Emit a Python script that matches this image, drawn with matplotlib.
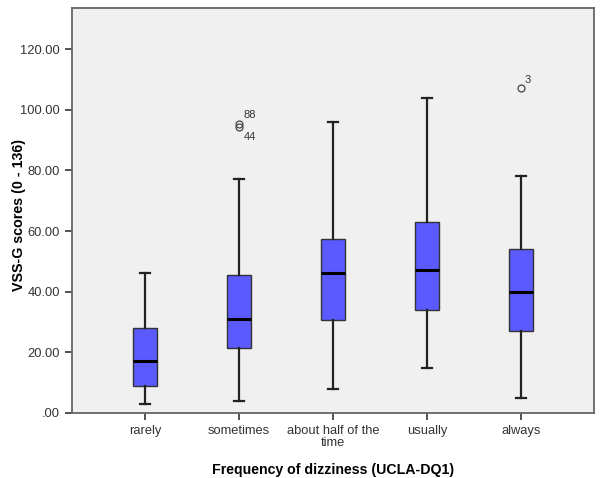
import matplotlib
matplotlib.use("Agg")
import matplotlib.pyplot as plt

plt.rcParams['font.family'] = ['Liberation Sans', 'DejaVu Sans']

categories = ["rarely", "sometimes", "about half of the\ntime", "usually", "always"]
whisker_low = [3, 4, 8, 15, 5]
q1 = [9, 21.4, 30.6, 34, 27]
median = [17, 31, 46, 47, 40]
q3 = [28, 45.6, 57.4, 63, 54]
whisker_high = [46, 77, 96, 104, 78]
outliers = [[], [95.3, 94.3], [], [], [107]]
outlier_ids = [[], ["88", "44"], [], [], ["3"]]

yticks = [0, 20, 40, 60, 80, 100, 120]
ytick_labels = [".00", "20.00", "40.00", "60.00", "80.00", "100.00", "120.00"]

stats = []
for i in range(len(categories)):
    stats.append({"med": median[i], "q1": q1[i], "q3": q3[i],
                  "whislo": whisker_low[i], "whishi": whisker_high[i],
                  "fliers": outliers[i]})

fig = plt.figure(figsize=(6.0, 4.78), dpi=100)
ax = fig.add_axes([0.12, 0.136, 0.87, 0.847])
ax.set_facecolor("#f0f0f0")

positions = list(range(1, len(categories) + 1))
ax.bxp(stats, positions=positions, widths=0.255, capwidths=0.11, patch_artist=True,
       boxprops=dict(facecolor="#5a5aff", edgecolor="#333333", linewidth=1.0),
       medianprops=dict(color="black", linewidth=2.2),
       whiskerprops=dict(color="#222222", linewidth=1.6),
       capprops=dict(color="#222222", linewidth=1.6),
       flierprops=dict(marker="o", markerfacecolor="none", markeredgecolor="#444444",
                       markersize=5, markeredgewidth=0.9))

# case numbers next to the outliers
for i, (vals, ids) in enumerate(zip(outliers, outlier_ids)):
    for j, (v, lab) in enumerate(zip(vals, ids)):
        dy = 2.8 if j == 0 else -3.3
        ax.text(positions[i] + 0.045, v + dy, lab, fontsize=8, color="#333333",
                ha="left", va="center")

ax.set_xlim(0.22, 5.78)
ax.set_ylim(0, 133.5)
ax.set_yticks(yticks)
ax.set_yticklabels(ytick_labels)
ax.set_xticks(positions)
ax.set_xticklabels(categories, linespacing=1.0)
ax.tick_params(axis="both", labelsize=9.3, colors="#333333", length=5, width=1.2,
               direction="out")
for s in ax.spines.values():
    s.set_color("#666666")
    s.set_linewidth(1.3)

ax.set_ylabel("VSS-G scores (0 - 136)", fontsize=10.3, fontweight="bold")
ax.yaxis.set_label_coords(-0.088, 0.49)
ax.set_xlabel("Frequency of dizziness (UCLA-DQ1)", fontsize=10.2, fontweight="bold", labelpad=10)

plt.savefig("out.png", dpi=100)
